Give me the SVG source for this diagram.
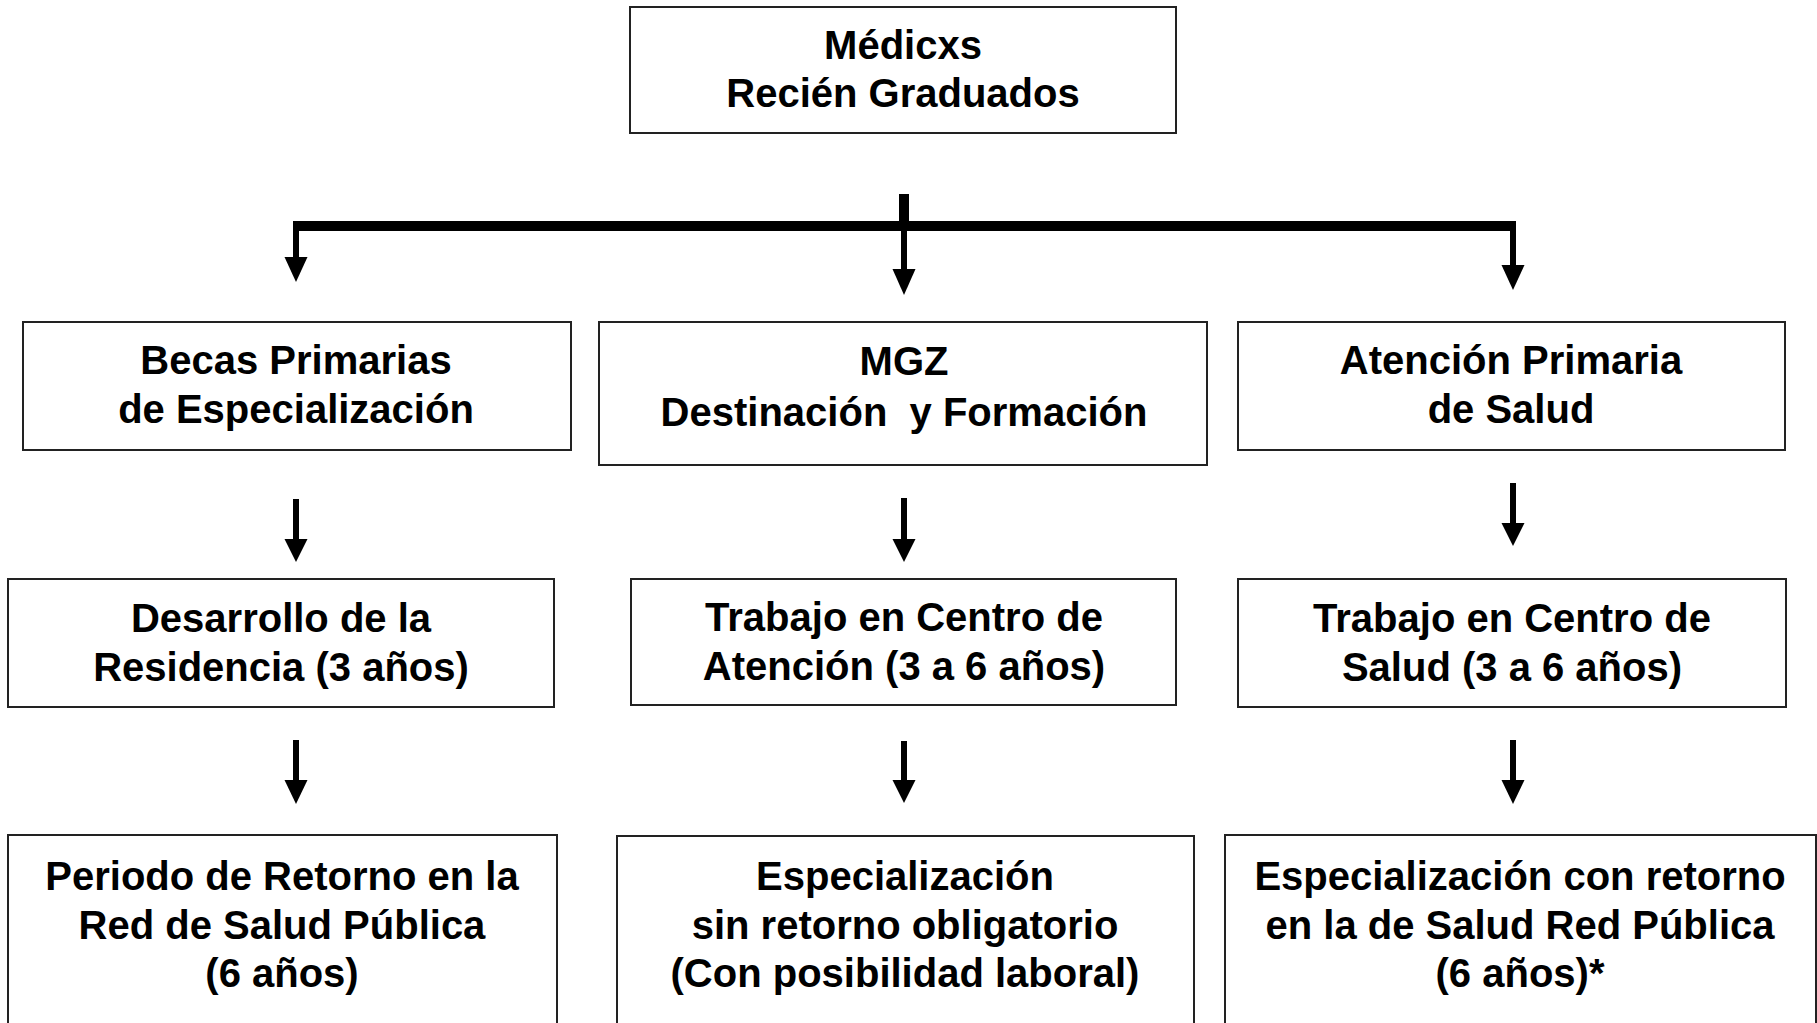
<svg xmlns="http://www.w3.org/2000/svg" width="1817" height="1023" viewBox="0 0 1817 1023">
<style>
.box{fill:#fff;stroke:#222;stroke-width:2}
.t{font-family:"Liberation Sans",Arial,sans-serif;font-weight:bold;font-size:40px;fill:#000;text-anchor:middle}
.line{stroke:#000;fill:none}
.head{fill:#000}
</style>
<rect width="1817" height="1023" fill="#fff"/>
<g id="connectors">
  <line class="line" x1="904" y1="194" x2="904" y2="231" stroke-width="10"/>
  <line class="line" x1="293" y1="226" x2="1516" y2="226" stroke-width="10"/>
  <line class="line" x1="296" y1="222" x2="296" y2="260" stroke-width="6"/>
  <polygon class="head" points="284.5,257 307.5,257 296,282"/>
  <line class="line" x1="904" y1="226" x2="904" y2="272" stroke-width="6"/>
  <polygon class="head" points="892.5,269 915.5,269 904,295"/>
  <line class="line" x1="1513" y1="222" x2="1513" y2="268" stroke-width="6"/>
  <polygon class="head" points="1501.5,265 1524.5,265 1513,290"/>
  <line class="line" x1="296" y1="499" x2="296" y2="541" stroke-width="6"/>
  <polygon class="head" points="284.5,539 307.5,539 296,562"/>
  <line class="line" x1="904" y1="498" x2="904" y2="541" stroke-width="6"/>
  <polygon class="head" points="892.5,539 915.5,539 904,562"/>
  <line class="line" x1="1513" y1="483" x2="1513" y2="525" stroke-width="6"/>
  <polygon class="head" points="1501.5,523 1524.5,523 1513,546"/>
  <line class="line" x1="296" y1="740" x2="296" y2="782" stroke-width="6"/>
  <polygon class="head" points="284.5,780 307.5,780 296,804"/>
  <line class="line" x1="904" y1="741" x2="904" y2="782" stroke-width="6"/>
  <polygon class="head" points="892.5,780 915.5,780 904,803"/>
  <line class="line" x1="1513" y1="740" x2="1513" y2="782" stroke-width="6"/>
  <polygon class="head" points="1501.5,780 1524.5,780 1513,804"/>
</g>
<g id="n-top">
  <rect class="box" x="630" y="7" width="546" height="126"/>
  <text class="t" x="903" y="59">Médicxs</text>
  <text class="t" x="903" y="107">Recién Graduados</text>
</g>
<g id="n-becas">
  <rect class="box" x="23" y="322" width="548" height="128"/>
  <text class="t" x="296" y="374">Becas Primarias</text>
  <text class="t" x="296" y="423">de Especialización</text>
</g>
<g id="n-mgz">
  <rect class="box" x="599" y="322" width="608" height="143"/>
  <text class="t" x="904" y="375">MGZ</text>
  <text class="t" x="904" y="426" xml:space="preserve">Destinación  y Formación</text>
</g>
<g id="n-aps">
  <rect class="box" x="1238" y="322" width="547" height="128"/>
  <text class="t" x="1511" y="374">Atención Primaria</text>
  <text class="t" x="1511" y="423">de Salud</text>
</g>
<g id="n-residencia">
  <rect class="box" x="8" y="579" width="546" height="128"/>
  <text class="t" x="281" y="632">Desarrollo de la</text>
  <text class="t" x="281" y="681">Residencia (3 años)</text>
</g>
<g id="n-atencion">
  <rect class="box" x="631" y="579" width="545" height="126"/>
  <text class="t" x="904" y="631">Trabajo en Centro de</text>
  <text class="t" x="904" y="680">Atención (3 a 6 años)</text>
</g>
<g id="n-salud">
  <rect class="box" x="1238" y="579" width="548" height="128"/>
  <text class="t" x="1512" y="632">Trabajo en Centro de</text>
  <text class="t" x="1512" y="681">Salud (3 a 6 años)</text>
</g>
<g id="n-retorno">
  <rect class="box" x="8" y="835" width="549" height="200"/>
  <text class="t" x="282" y="890">Periodo de Retorno en la</text>
  <text class="t" x="282" y="939">Red de Salud Pública</text>
  <text class="t" x="282" y="987">(6 años)</text>
</g>
<g id="n-sinretorno">
  <rect class="box" x="617" y="836" width="577" height="200"/>
  <text class="t" x="905" y="890">Especialización</text>
  <text class="t" x="905" y="939">sin retorno obligatorio</text>
  <text class="t" x="905" y="987">(Con posibilidad laboral)</text>
</g>
<g id="n-conretorno">
  <rect class="box" x="1225" y="835" width="591" height="200"/>
  <text class="t" x="1520" y="890">Especialización con retorno</text>
  <text class="t" x="1520" y="939">en la de Salud Red Pública</text>
  <text class="t" x="1520" y="987">(6 años)*</text>
</g>
</svg>
